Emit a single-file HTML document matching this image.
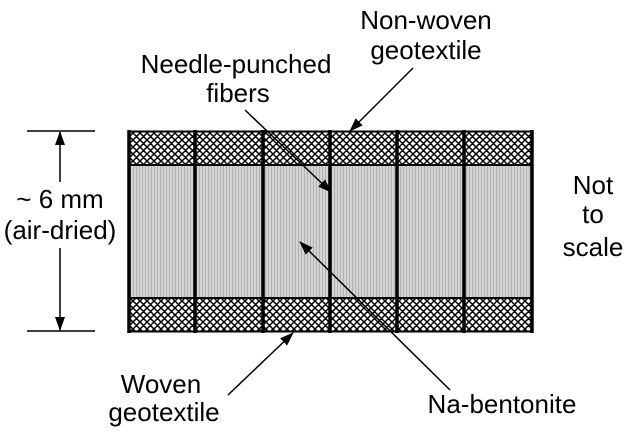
<!DOCTYPE html>
<html><head><meta charset="utf-8"><style>
html,body{margin:0;padding:0;background:#fff;width:628px;height:435px;overflow:hidden}
text{font-family:"Liberation Sans",Arial,sans-serif;font-size:26px;fill:#000}
</style></head><body>
<svg width="628" height="435" viewBox="0 0 628 435" xmlns="http://www.w3.org/2000/svg">
<defs>
<pattern id="h" width="7" height="7" patternUnits="userSpaceOnUse">
<rect width="7" height="7" fill="#fff"/>
<path d="M-1,-1 L8,8 M-1,6 L1,8 M6,-1 L8,1 M8,-1 L-1,8 M1,-1 L-1,1 M8,6 L6,8" stroke="#000" stroke-width="1.5"/>
</pattern>
<pattern id="g" width="3" height="3" patternUnits="userSpaceOnUse">
<rect width="3" height="3" fill="#d4d4d4"/>
<rect x="1" y="0" width="1" height="3" fill="#b0b0b0"/>
</pattern>
<marker id="a" markerWidth="14" markerHeight="10" refX="13" refY="5" orient="auto" markerUnits="userSpaceOnUse">
<path d="M0,0 L14,5 L0,10 Z" fill="#000"/>
</marker>
</defs>
<rect x="128" y="131" width="405" height="34" fill="url(#h)"/>
<rect x="128" y="298" width="405" height="34" fill="url(#h)"/>
<rect x="128" y="165" width="405" height="133" fill="url(#g)"/>
<g stroke="#000" stroke-width="2">
<line x1="128" y1="131.5" x2="533" y2="131.5"/>
<line x1="128" y1="165" x2="533" y2="165"/>
<line x1="128" y1="298" x2="533" y2="298"/>
<line x1="128" y1="331.5" x2="533" y2="331.5"/>
</g>
<g stroke="#000" stroke-width="3.5">
<line x1="129" y1="130" x2="129" y2="333"/>
<line x1="195" y1="130" x2="195" y2="333"/>
<line x1="263" y1="130" x2="263" y2="333"/>
<line x1="330" y1="130" x2="330" y2="333"/>
<line x1="397" y1="130" x2="397" y2="333"/>
<line x1="464" y1="130" x2="464" y2="333"/>
<line x1="532" y1="130" x2="532" y2="333"/>
</g>
<g stroke="#000" stroke-width="1.5" fill="none">
<line x1="27" y1="131" x2="95" y2="131"/>
<line x1="27" y1="331" x2="95" y2="331"/>
<line x1="60" y1="182" x2="60" y2="132" marker-end="url(#a)"/>
<line x1="60" y1="248" x2="60" y2="330" marker-end="url(#a)"/>
<line x1="245" y1="110" x2="331" y2="192" marker-end="url(#a)"/>
<line x1="413" y1="68" x2="350" y2="131" marker-end="url(#a)"/>
<line x1="228" y1="395" x2="293" y2="333" marker-end="url(#a)"/>
<line x1="450" y1="390" x2="300" y2="242" marker-end="url(#a)"/>
</g>
<text x="426" y="29" text-anchor="middle">Non-woven</text>
<text x="426" y="59" text-anchor="middle">geotextile</text>
<text x="236" y="73" text-anchor="middle">Needle-punched</text>
<text x="238" y="102" text-anchor="middle">fibers</text>
<text x="60" y="208" text-anchor="middle">~ 6 mm</text>
<text x="60" y="239" text-anchor="middle">(air-dried)</text>
<text x="593" y="194" text-anchor="middle">Not</text>
<text x="593" y="223" text-anchor="middle">to</text>
<text x="593" y="256" text-anchor="middle">scale</text>
<text x="161" y="393" text-anchor="middle">Woven</text>
<text x="164" y="421" text-anchor="middle">geotextile</text>
<text x="502" y="413" text-anchor="middle">Na-bentonite</text>
</svg>
</body></html>
